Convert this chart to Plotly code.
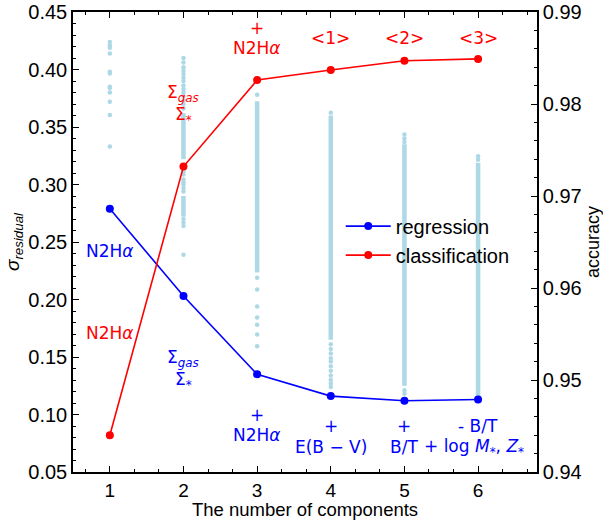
import plotly.graph_objects as go

components = [1, 2, 3, 4, 5, 6]
regression = [0.279, 0.203, 0.135, 0.116, 0.112, 0.113]
classification = [0.9440, 0.9732, 0.9826, 0.9837, 0.9847, 0.9849]

# sparse individual residuals (left axis)
pts_1 = [0.424, 0.421, 0.419, 0.414, 0.398, 0.3965, 0.385, 0.384, 0.380, 0.372, 0.3605, 0.333]
pts_2 = [0.410, 0.406, 0.402, 0.399, 0.396, 0.393, 0.390, 0.386, 0.383, 0.380, 0.377,
         0.373, 0.370, 0.366, 0.3116, 0.3087, 0.3043, 0.302, 0.300, 0.297, 0.294,
         0.270, 0.267, 0.264, 0.239]
pts_3 = [0.378, 0.219, 0.2087, 0.194, 0.1843, 0.178, 0.1696, 0.1594]
pts_4 = [0.3623, 0.161, 0.157, 0.153, 0.149, 0.146, 0.142, 0.138, 0.134, 0.130, 0.127, 0.124]
pts_5 = [0.3435, 0.340, 0.337, 0.121, 0.118]
pts_6 = [0.3246, 0.3215]
# dense ranges of residuals (low, high) per component
dense_x = [2, 2, 3, 4, 5, 6]
dense_lo = [0.322, 0.272, 0.2235, 0.165, 0.125, 0.116]
dense_hi = [0.362, 0.290, 0.3724, 0.360, 0.335, 0.319]

LB = "#ADD8E6"
fig = go.Figure()

px, py = [], []
for c, p in zip(components, [pts_1, pts_2, pts_3, pts_4, pts_5, pts_6]):
    px += [c] * len(p)
    py += p
fig.add_trace(go.Scatter(x=px, y=py, mode="markers", marker=dict(color=LB, size=4.5),
                         showlegend=False, hoverinfo="skip"))
lx, ly = [], []
for c, lo, hi in zip(dense_x, dense_lo, dense_hi):
    lx += [c, c, None]
    ly += [lo, hi, None]
fig.add_trace(go.Scatter(x=lx, y=ly, mode="lines", line=dict(color=LB, width=4.5),
                         showlegend=False, hoverinfo="skip"))

fig.add_trace(go.Scatter(x=components, y=regression, mode="lines+markers", name="regression",
                         line=dict(color="#0000FF", width=1.6), marker=dict(color="#0000FF", size=8)))
fig.add_trace(go.Scatter(x=components, y=classification, mode="lines+markers", name="classification",
                         yaxis="y2",
                         line=dict(color="#FF0000", width=1.6), marker=dict(color="#FF0000", size=8)))

AF = "DejaVu Sans"
red_ann = [
    (3, 0.436, "+"), (3, 0.419, "N2H<i>α</i>"),
    (4, 0.427, "<1>"), (5, 0.427, "<2>"), (6, 0.427, "<3>"),
    (2, 0.379, "Σ<sub><i>gas</i></sub>"), (2, 0.360, "Σ<sub>*</sub>"),
    (1, 0.171, "N2H<i>α</i>"),
]
blue_ann = [
    (1, 0.242, "N2H<i>α</i>"),
    (2, 0.149, "Σ<sub><i>gas</i></sub>"), (2, 0.130, "Σ<sub>*</sub>"),
    (3, 0.100, "+"), (3, 0.082, "N2H<i>α</i>"),
    (4, 0.090, "+"), (4, 0.072, "E(B − V)"),
    (5, 0.090, "+"), (5, 0.072, "B/T"),
    (6, 0.090, "- B/T"), (5.95, 0.071, "+ log <i>M</i><sub>*</sub>, <i>Z</i><sub>*</sub>"),
]
anns = []
for x, y, t in red_ann:
    anns.append(dict(x=x, y=y, xref="x", yref="y", text=t, showarrow=False,
                     font=dict(family=AF, size=17, color="#FF0000")))
for x, y, t in blue_ann:
    anns.append(dict(x=x, y=y, xref="x", yref="y", text=t, showarrow=False,
                     font=dict(family=AF, size=17, color="#0000FF")))

fig.update_layout(
    template="none",
    width=603, height=520,
    margin=dict(l=73, r=66, t=12, b=48),
    plot_bgcolor="white", paper_bgcolor="white",
    font=dict(family="Liberation Sans", color="black"),
    annotations=anns,
    legend=dict(x=0.577, y=0.577, xanchor="left", yanchor="top", bgcolor="rgba(0,0,0,0)",
                font=dict(size=20), itemwidth=45, tracegroupgap=0),
    xaxis=dict(range=[0.5, 6.8], tickmode="array", tickvals=components, automargin=False,
               ticks="inside", ticklen=6, tickwidth=1.2, tickcolor="black",
               minor=dict(dtick=1/3, tick0=0, ticks="inside", ticklen=3, tickcolor="black"),
               showline=True, linecolor="black", linewidth=1.5, mirror="ticks",
               showgrid=False, zeroline=False, tickfont=dict(size=19),
               title=dict(text="The number of components", font=dict(size=18.5), standoff=0)),
    yaxis=dict(range=[0.05, 0.45], dtick=0.05, tickformat=".2f", automargin=False,
               ticks="inside", ticklen=6, tickwidth=1.2, tickcolor="black",
               minor=dict(dtick=0.01, ticks="inside", ticklen=3, tickcolor="black"),
               showline=True, linecolor="black", linewidth=1.5,
               showgrid=False, zeroline=False, tickfont=dict(size=20),
               title=dict(text="<i>σ</i><sub><i>residual</i></sub>", font=dict(size=19), standoff=4)),
    yaxis2=dict(range=[0.94, 0.99], dtick=0.01, tickformat=".2f", overlaying="y", side="right",
                automargin=False,
                ticks="inside", ticklen=6, tickwidth=1.2, tickcolor="black",
                minor=dict(dtick=0.002, ticks="inside", ticklen=3, tickcolor="black"),
                showline=True, linecolor="black", linewidth=1.5,
                showgrid=False, zeroline=False, tickfont=dict(size=20),
                title=dict(text="accuracy", font=dict(size=18), standoff=6)),
)

fig.write_html("out.html", config={"displayModeBar": False},
               post_script="document.body.style.margin='0';")
